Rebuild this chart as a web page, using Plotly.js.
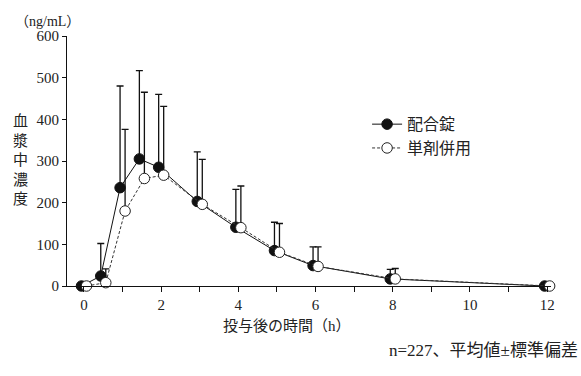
<!DOCTYPE html>
<html><head><meta charset="utf-8">
<script src="https://cdn.plot.ly/plotly-3.0.1.min.js"></script>
<style>html,body{margin:0;padding:0;background:#fff}</style>
</head><body>
<div id="chart" style="width:581px;height:376px"></div>
<script>
const hours = [0, 0.5, 1, 1.5, 2, 3, 4, 5, 6, 8, 12];
const comboMean = [0, 24, 236, 305, 285, 203, 141, 85, 49, 17, 0];
const comboSD   = [0, 78, 244, 212, 175, 119, 91, 68, 45, 23, 0];
const sepMean   = [0, 8, 180, 258, 266, 196, 140, 81, 47, 17, 0];
const sepSD     = [0, 33, 196, 207, 165, 108, 100, 69, 47, 25, 0];
const seriesNames = ['配合錠', '単剤併用'];
const xTicks = [0, 2, 4, 6, 8, 10, 12];
const yTicks = [0, 100, 200, 300, 400, 500, 600];

const serif = '"Liberation Serif", "Noto Sans CJK JP", serif';
const offA = hours.map(h => h - 0.065);
const offB = hours.map(h => h + 0.065);
const zeros = hours.map(() => 0);

const traces = [
  {
    x: offA, y: comboMean, name: seriesNames[0], type: 'scatter', mode: 'lines+markers',
    line: {color: '#111', width: 1},
    marker: {symbol: 'circle', size: 10.5, color: '#111', line: {color: '#111', width: 1}},
    error_y: {type: 'data', symmetric: false, array: comboSD, arrayminus: zeros, color: '#111', thickness: 1.3, width: 3.5},
    cliponaxis: false
  },
  {
    x: offB, y: sepMean, name: seriesNames[1], type: 'scatter', mode: 'lines+markers',
    line: {color: '#333', width: 1, dash: '3px,2px'},
    marker: {symbol: 'circle', size: 10.5, color: '#fff', line: {color: '#222', width: 1}},
    error_y: {type: 'data', symmetric: false, array: sepSD, arrayminus: zeros, color: '#111', thickness: 1.3, width: 3.5},
    cliponaxis: false
  }
];

const layout = {
  width: 581, height: 376,
  margin: {l: 67, r: 30, t: 36, b: 90},
  paper_bgcolor: '#fff', plot_bgcolor: '#fff',
  font: {family: serif, color: '#222', size: 15},
  showlegend: true,
  legend: {x: 0.62, y: 0.715, xanchor: 'left', yanchor: 'top', bgcolor: 'rgba(0,0,0,0)',
           font: {family: serif, size: 16, color: '#222'}, itemwidth: 30, tracegroupgap: 0},
  xaxis: {
    range: [-0.44, 12.1], showgrid: false, zeroline: false,
    showline: true, linecolor: '#111', linewidth: 1,
    ticks: 'outside', ticklen: 5, tickcolor: '#111', tickwidth: 1,
    tickvals: xTicks, ticktext: xTicks.map(String),
    minor: {dtick: 1, tick0: 0, ticks: 'outside', ticklen: 5, tickcolor: '#111', tickwidth: 1, showgrid: false},
    tickfont: {family: serif, size: 15, color: '#222'}
  },
  yaxis: {
    range: [0, 600], showgrid: false, zeroline: false,
    showline: true, linecolor: '#111', linewidth: 1,
    ticks: 'outside', ticklen: 4, tickcolor: '#111', tickwidth: 1,
    tickvals: yTicks, ticktext: yTicks.map(String),
    tickfont: {family: serif, size: 15, color: '#222'}
  },
  annotations: [
    {text: '（ng/mL）', xref: 'paper', yref: 'paper', x: -0.112, y: 1.0, xanchor: 'left', yanchor: 'bottom',
     showarrow: false, font: {family: serif, size: 14, color: '#222'}, yshift: 5},
    {text: '血<br>漿<br>中<br>濃<br>度', xref: 'paper', yref: 'paper', x: -0.097, y: 0.504, xanchor: 'center', yanchor: 'middle',
     showarrow: false, font: {family: serif, size: 15, color: '#222'}},
    {text: '投与後の時間（h）', xref: 'paper', yref: 'paper', x: 0.455, y: -0.12, xanchor: 'center', yanchor: 'top',
     showarrow: false, font: {family: serif, size: 15, color: '#222'}},
    {text: 'n=227、平均値±標準偏差', xref: 'paper', yref: 'paper', x: 1.06, y: -0.21, xanchor: 'right', yanchor: 'top',
     showarrow: false, font: {family: serif, size: 17, color: '#222'}}
  ]
};

Plotly.newPlot('chart', traces, layout, {displayModeBar: false, staticPlot: true});
</script>
</body></html>
